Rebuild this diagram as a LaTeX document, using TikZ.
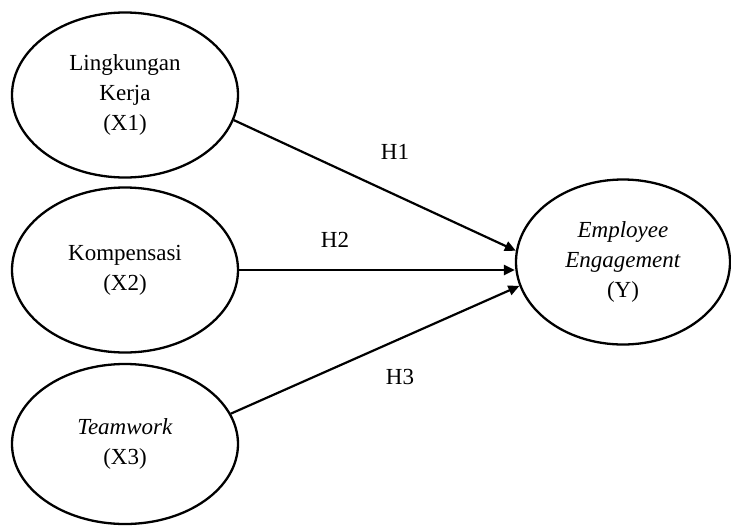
\documentclass[tikz,border=0pt]{standalone}
\usepackage{fontspec}
\setmainfont{Liberation Serif}
\usetikzlibrary{shapes.geometric,arrows.meta}
\begin{document}
\begin{tikzpicture}[x=1pt,y=-1pt,
  var/.style={draw,line width=2.3pt,ellipse,inner sep=0pt,minimum width=226pt,minimum height=165pt,align=center,font=\fontsize{23}{30}\selectfont},
  link/.style={line width=2.2pt,-{Triangle[length=11pt,width=10pt]}},
  lab/.style={font=\fontsize{23}{30}\selectfont}]
\useasboundingbox (0,0) rectangle (731,525);
\node[var] (x1) at (125,95) {Lingkungan\\Kerja\\(X1)};
\node[var] (x2) at (125,270) {Kompensasi\\(X2)};
\node[var,minimum height=160pt] (x3) at (125,444) {\textit{Teamwork}\\(X3)};
\node[var,minimum width=214pt] (y) at (623,262) {\textit{Employee}\\\textit{Engagement}\\(Y)};
\draw[link] (x1.-13.5) -- (y.174.7);
\draw[link,line width=2.8pt] (x2.east) -- (x2.east -| y.west);
\draw[link] (x3.16.2) -- (y.193);
\node[lab] (h1) at (395,152) {H1};
\node[lab] (h2) at (335,240) {H2};
\node[lab] (h3) at (400,377) {H3};
\end{tikzpicture}
\end{document}
